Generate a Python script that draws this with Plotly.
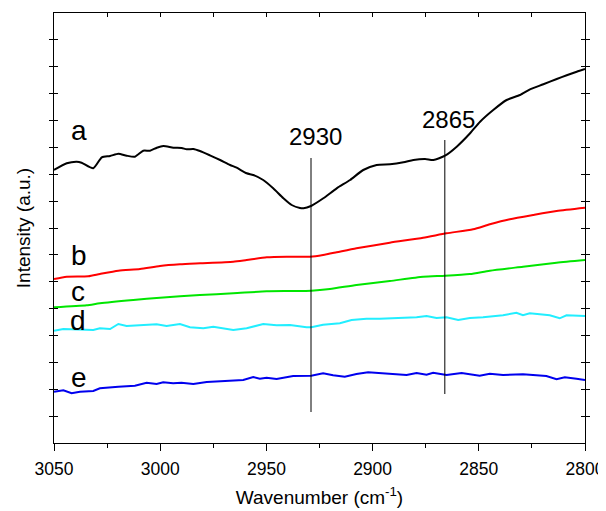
import plotly.graph_objects as go

# ---- data (wavenumber in cm-1, intensity in a.u.) ----
wn_a = [3050, 3044, 3039.3, 3037, 3031.5, 3027.5, 3023.6, 3019.7, 3015.8, 3011.9, 3008, 3004.8,
        3001.6, 2998.5, 2993.8, 2989.9, 2987.5, 2984.4, 2981.3, 2976.6, 2971.8, 2967.1, 2964,
        2959.3, 2956.2, 2951.5, 2946.8, 2942, 2938.1, 2934.2, 2932.5, 2929, 2923.2, 2916.9,
        2910.6, 2904.4, 2898.1, 2891.8, 2885.5, 2880.8, 2875.3, 2871.4, 2865.9, 2860.4,
        2854.1, 2849.4, 2843.2, 2836.9, 2830.6, 2825.9, 2819.6, 2813.3, 2808.6, 2803.9, 2800]
int_a = [273, 279.7, 281.3, 280.3, 274.7, 285.7, 287, 289.3, 287.3, 286.3, 292.3, 292.3,
         295.3, 297, 295.3, 295, 293.7, 294, 292, 287.7, 283, 278, 275.3,
         269.7, 268, 263, 254.7, 244.7, 238, 235, 234.7, 237, 244.7, 254.7,
         263, 273, 278, 278.7, 280.7, 283, 284, 283, 287.3, 296.3,
         309.7, 321.3, 333, 343, 348, 353.7, 358.7, 364, 367.7, 371.3, 374]

wn_b = [3050, 3044, 3033.9, 3028.4, 3019.7, 3009.5, 3000.1, 2990.7, 2981.2, 2965.6, 2959.3,
        2949.8, 2940.4, 2929.5, 2923.3, 2916.9, 2907.6, 2891.9, 2876.2, 2865.2, 2852.7,
        2844.8, 2835.4, 2824.4, 2813.4, 2800]
int_b = [164, 166.3, 166.7, 169, 172.3, 174, 177, 178.7, 179.7, 181.3, 183,
         185.7, 186.3, 186.3, 188, 190.7, 194.7, 200.3, 205.3, 209.7, 213.7,
         218.7, 223.7, 228, 232, 235.3]

wn_c = [3050, 3034.6, 3028.4, 3012.7, 3000.1, 2981.3, 2965.6, 2949.9, 2938.9, 2928.9, 2920.1,
        2907.6, 2891.9, 2876.2, 2865.9, 2854.2, 2844.8, 2829.2, 2813.4, 2800]
int_c = [135.7, 137.7, 139.7, 143, 145.3, 148, 149.7, 151.7, 152, 152.3, 154,
         158, 162, 166.3, 167.3, 169, 172.3, 176.3, 180.3, 183]

wn_d = [3050, 3045.6, 3031.5, 3028.4, 3023.6, 3019.7, 3015.8, 3009.5, 3001.7, 2997, 2990.7,
        2986, 2979.7, 2975, 2965.6, 2959.3, 2951.5, 2945.2, 2938.9, 2931.1, 2928.9, 2923.3,
        2915.4, 2909.9, 2902.9, 2896.6, 2885.6, 2879.3, 2874.6, 2869.9, 2865.2, 2859.7,
        2854.2, 2848, 2838.6, 2832.3, 2829.2, 2826, 2816.6, 2811.9, 2808.7, 2800]
int_d = [112.3, 114, 113, 114.7, 114, 119, 117, 118, 118.7, 117, 119,
         115.7, 114.7, 116.3, 113, 114.7, 119, 117.7, 118, 115.7, 115.7, 118.3,
         119.7, 123, 124.3, 124.3, 125, 125.7, 127, 125, 125.7, 123,
         125, 125.7, 127.7, 130.3, 127.7, 129.7, 127.7, 124.7, 127.7, 127]

wn_e = [3050, 3045.6, 3041.7, 3037.8, 3031.5, 3028.4, 3019.7, 3011.9, 3006.4, 3001.7, 2998.6,
        2993.9, 2990, 2984.4, 2978.1, 2965.6, 2960.9, 2956.2, 2953.1, 2949.9, 2945.2, 2937.4,
        2931.1, 2928.9, 2923.3, 2918.6, 2913.1, 2907.6, 2902.1, 2891.9, 2884, 2879.3, 2874.6,
        2871.5, 2865.2, 2858.1, 2849.6, 2844.8, 2838.6, 2829.2, 2818.2, 2813.4, 2809.5,
        2804, 2800]
int_e = [51.3, 52.7, 49.7, 51.3, 52, 54.7, 56.3, 57.3, 60.3, 59, 60.7,
         59.7, 60.3, 59, 61, 62.3, 63, 66, 64.3, 65.3, 64, 67,
         67.3, 67.3, 69.7, 67.7, 66.3, 69, 70.7, 69, 68, 70, 68.3,
         70.3, 68, 70, 67.3, 69.3, 68, 68.7, 67, 63.7, 65.7,
         64.3, 63]

# marker lines: (wavenumber, bottom, top) and their labels
peak_wn = [2929, 2866]
peak_lo = [31, 49]
peak_hi = [285, 303]
peak_labels = ["2930", "2865"]
peak_label_wn = [2926.7, 2864.1]
peak_label_int = [307, 323.2]

curve_labels = ["a", "b", "c", "d", "e"]
curve_label_wn = [3038.1, 3038.1, 3038.8, 3038.8, 3038.4]
curve_label_int = [313, 187.4, 151.4, 123, 65.4]

x_ticks = [3050, 3000, 2950, 2900, 2850, 2800]

FONT = "Arial, 'Liberation Sans', sans-serif"

fig = go.Figure()
series = [
    (wn_a, int_a, "#000000", "spline"),
    (wn_b, int_b, "#FF0000", "spline"),
    (wn_c, int_c, "#00E600", "spline"),
    (wn_d, int_d, "#22EEFF", "linear"),
    (wn_e, int_e, "#0000EE", "linear"),
]
for xs, ys, col, shape in series:
    fig.add_trace(go.Scatter(x=xs, y=ys, mode="lines",
                             line=dict(color=col, width=2, shape=shape, smoothing=0.6),
                             showlegend=False, hoverinfo="skip", cliponaxis=False))

for w, lo, hi in zip(peak_wn, peak_lo, peak_hi):
    fig.add_trace(go.Scatter(x=[w, w], y=[lo, hi], mode="lines",
                             line=dict(color="black", width=1),
                             showlegend=False, hoverinfo="skip"))

# dummy trace for top mirror axis
fig.add_trace(go.Scatter(x=[3050, 2800], y=[None, None], xaxis="x2", mode="lines",
                         showlegend=False, hoverinfo="skip"))

for t, xw, yi in zip(peak_labels, peak_label_wn, peak_label_int):
    fig.add_annotation(x=xw, y=yi, text=t, showarrow=False,
                       font=dict(family=FONT, size=24, color="black"),
                       xanchor="center", yanchor="middle")

for t, xw, yi in zip(curve_labels, curve_label_wn, curve_label_int):
    fig.add_annotation(x=xw, y=yi, text=t, showarrow=False,
                       font=dict(family=FONT, size=28, color="black"),
                       xanchor="center", yanchor="middle")

# the page adds an 8 px body margin, so the figure is drawn 8 px smaller
fig.update_layout(
    width=598, height=503,
    margin=dict(l=46, r=21, t=5, b=68),
    paper_bgcolor="white", plot_bgcolor="white",
    font=dict(family=FONT, color="black"),
    xaxis=dict(range=[3050, 2800], tickvals=x_ticks, ticktext=[str(v) for v in x_ticks],
               ticks="outside", ticklen=7, tickwidth=1.3, tickcolor="black",
               minor=dict(ticks="outside", ticklen=4, dtick=25, tick0=3050,
                          tickcolor="black", tickwidth=1.3),
               ticklabelstandoff=3,
               showline=True, linecolor="black", linewidth=1.3, showgrid=False,
               zeroline=False, tickfont=dict(size=17.5), automargin=False,
               title=dict(text="Wavenumber (cm<sup>-1</sup>)", font=dict(size=19), standoff=12)),
    xaxis2=dict(range=[3050, 2800], overlaying="x", side="top", anchor="y",
                showticklabels=False, ticks="inside", ticklen=4, tickwidth=1.3,
                tickcolor="black", dtick=25, tick0=3050, showline=True, automargin=False,
                linecolor="black", linewidth=1.3, showgrid=False, zeroline=False),
    yaxis=dict(range=[0, 430], dtick=430 / 16, tick0=0, showticklabels=False,
               ticks="inside", ticklen=4, tickwidth=1.3, tickcolor="black",
               mirror="allticks", showline=True, linecolor="black", linewidth=1.3,
               showgrid=False, zeroline=False, automargin=False,
               title=dict(text="Intensity (a.u.)", font=dict(size=19), standoff=17)),
)

fig.write_html("out.html")
